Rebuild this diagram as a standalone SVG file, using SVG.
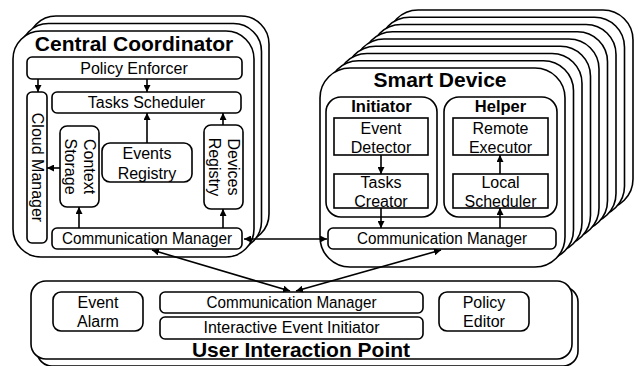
<svg xmlns="http://www.w3.org/2000/svg" width="640" height="366" viewBox="0 0 640 366">
<defs>
<style>
.box{fill:#fff;stroke:#000;stroke-width:1.6}
.t{font-family:"Liberation Sans",Arial,sans-serif;font-size:16px;fill:#000;text-anchor:middle}
.h{font-family:"Liberation Sans",Arial,sans-serif;font-size:21px;font-weight:bold;fill:#000;text-anchor:middle}
.h2{font-family:"Liberation Sans",Arial,sans-serif;font-size:16.5px;font-weight:bold;fill:#000;text-anchor:middle}
.c{fill:none;stroke:#000;stroke-width:1.6}
</style>
<marker id="ah" viewBox="0 0 10 10" refX="10" refY="5" markerWidth="7" markerHeight="7" markerUnits="userSpaceOnUse" orient="auto-start-reverse">
<path d="M0,0 L10,5 L0,10 z" fill="#000"/>
</marker>
<rect id="ccShape" width="241" height="226" rx="28" class="box"/>
<rect id="sdShape" width="245" height="199" rx="30" class="box"/>
</defs>

<g id="central-coordinator">
<use href="#ccShape" x="28" y="16"/>
<use href="#ccShape" x="20.5" y="23.5"/>
<use href="#ccShape" x="13" y="31"/>
<text class="h" x="134" y="51">Central Coordinator</text>
</g>
<g id="policy-enforcer"><rect class="box" x="27" y="57" width="215" height="22" rx="5"/><text class="t" x="134" y="74">Policy Enforcer</text></g>
<g id="tasks-scheduler"><rect class="box" x="52" y="92" width="189" height="21" rx="5"/><text class="t" x="146.5" y="108">Tasks Scheduler</text></g>
<g id="cloud-manager"><rect class="box" x="27" y="92" width="20" height="151" rx="5"/><text class="t" transform="translate(37,167.5) rotate(90)" y="5.5">Cloud Manager</text></g>
<g id="context-storage"><rect class="box" x="60" y="126" width="39" height="81" rx="7"/><text class="t" transform="translate(79.5,166.5) rotate(90)"><tspan x="0" y="-4">Context</tspan><tspan x="0" y="15">Storage</tspan></text></g>
<g id="events-registry"><rect class="box" x="102" y="143" width="90" height="39" rx="8"/><text class="t" x="147" y="158.5">Events<tspan x="147" y="178.5">Registry</tspan></text></g>
<g id="devices-registry"><rect class="box" x="204" y="125" width="39" height="84" rx="7"/><text class="t" transform="translate(223.5,167) rotate(90)"><tspan x="0" y="-4">Devices</tspan><tspan x="0" y="15">Registry</tspan></text></g>
<g id="cc-communication-manager"><rect class="box" x="52" y="228" width="190" height="21" rx="5"/><text class="t" x="147" y="244" textLength="170" lengthAdjust="spacingAndGlyphs">Communication Manager</text></g>

<g id="smart-device">
<use href="#sdShape" x="388" y="10"/>
<use href="#sdShape" x="379.5" y="17.25"/>
<use href="#sdShape" x="371" y="24.5"/>
<use href="#sdShape" x="362.5" y="31.75"/>
<use href="#sdShape" x="354" y="39"/>
<use href="#sdShape" x="345.5" y="46.25"/>
<use href="#sdShape" x="337" y="53.5"/>
<use href="#sdShape" x="328.5" y="60.75"/>
<use href="#sdShape" x="320" y="68"/>
<text class="h" x="440" y="87">Smart Device</text>
</g>
<g id="initiator"><rect class="box" x="326" y="97" width="111" height="120" rx="15"/><text class="h2" x="381.5" y="112">Initiator</text></g>
<g id="helper"><rect class="box" x="444" y="97" width="113" height="120" rx="15"/><text class="h2" x="500.5" y="112">Helper</text></g>
<g id="event-detector"><rect class="box" x="334" y="118" width="94" height="37"/><text class="t" x="381" y="134">Event<tspan x="381" y="153">Detector</tspan></text></g>
<g id="tasks-creator"><rect class="box" x="334" y="174" width="94" height="34"/><text class="t" x="381" y="188">Tasks<tspan x="381" y="206.5">Creator</tspan></text></g>
<g id="remote-executor"><rect class="box" x="453" y="118" width="95" height="37"/><text class="t" x="500.5" y="134">Remote<tspan x="500.5" y="153">Executor</tspan></text></g>
<g id="local-scheduler"><rect class="box" x="453" y="174" width="95" height="34"/><text class="t" x="500.5" y="188">Local<tspan x="500.5" y="206.5">Scheduler</tspan></text></g>
<g id="sd-communication-manager"><rect class="box" x="328" y="228" width="228" height="21" rx="5"/><text class="t" x="442" y="244" textLength="170" lengthAdjust="spacingAndGlyphs">Communication Manager</text></g>

<g id="user-interaction-point">
<rect class="box" x="37" y="287" width="541" height="79" rx="15"/>
<rect class="box" x="31" y="281" width="541" height="78" rx="15"/>
<text class="h" x="301" y="357">User Interaction Point</text>
</g>
<g id="event-alarm"><rect class="box" x="53" y="292" width="90" height="39" rx="8"/><text class="t" x="98" y="308">Event<tspan x="98" y="327">Alarm</tspan></text></g>
<g id="uip-communication-manager"><rect class="box" x="160" y="292" width="263" height="21" rx="5"/><text class="t" x="291.5" y="308" textLength="170" lengthAdjust="spacingAndGlyphs">Communication Manager</text></g>
<g id="interactive-event-initiator"><rect class="box" x="160" y="317" width="263" height="22" rx="5"/><text class="t" x="291.5" y="333">Interactive Event Initiator</text></g>
<g id="policy-editor"><rect class="box" x="439" y="292" width="90" height="39" rx="8"/><text class="t" x="484" y="308">Policy<tspan x="484" y="327">Editor</tspan></text></g>

<g id="connectors">
<path class="c" marker-end="url(#ah)" d="M38,79 V92"/>
<path class="c" marker-end="url(#ah)" d="M147,79 V92"/>
<path class="c" marker-end="url(#ah)" d="M147,143 V113"/>
<path class="c" marker-end="url(#ah)" d="M223,125 V113"/>
<path class="c" marker-end="url(#ah)" d="M60,168 H47"/>
<path class="c" marker-end="url(#ah)" d="M79,228 V207"/>
<path class="c" marker-end="url(#ah)" d="M223,228 V209"/>
<path class="c" marker-end="url(#ah)" d="M381,155 V174"/>
<path class="c" marker-end="url(#ah)" d="M500,174 V155"/>
<path class="c" marker-end="url(#ah)" d="M381,208 V228"/>
<path class="c" marker-end="url(#ah)" d="M500,228 V208"/>
<path class="c" marker-start="url(#ah)" marker-end="url(#ah)" d="M244,239 H327"/>
<path class="c" marker-start="url(#ah)" marker-end="url(#ah)" d="M152,250 L290,291"/>
<path class="c" marker-start="url(#ah)" marker-end="url(#ah)" d="M441,250 L296,291"/>
</g>
</svg>
